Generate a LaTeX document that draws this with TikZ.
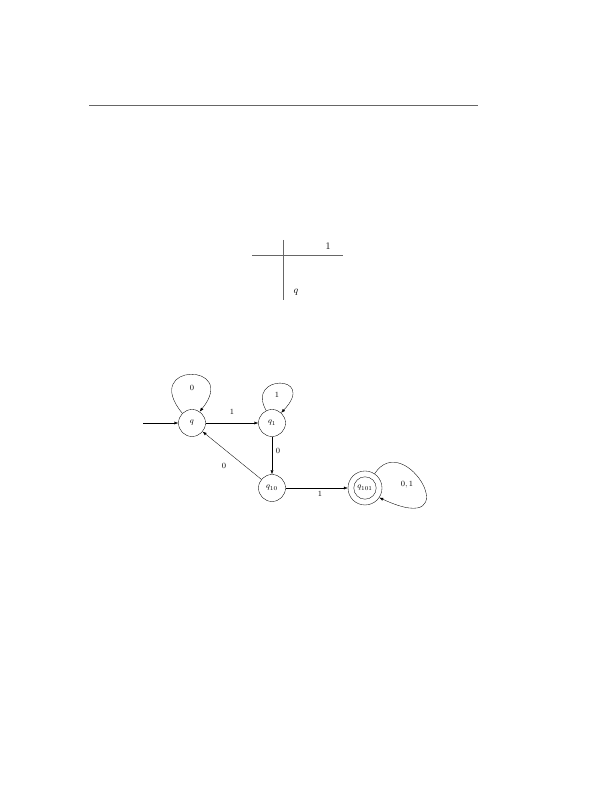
\documentclass[tikz,border=0pt]{standalone}
\usetikzlibrary{arrows.meta}
\begin{document}
\begin{tikzpicture}[x=1bp,y=1bp,
  state/.style={circle,draw,line width=0.35pt,minimum size=27bp,inner sep=0pt,font=\footnotesize},
  inner/.style={circle,draw,line width=0.35pt,minimum size=22.4bp,inner sep=0pt,font=\footnotesize},
  outer/.style={circle,draw,line width=0.35pt,minimum size=34bp,inner sep=0pt},
  edge/.style={line width=0.35pt,-{Latex[length=4bp,width=3bp]}},
  lbl/.style={font=\footnotesize,inner sep=0pt},
  thin/.style={line width=0.5pt,draw=black!60}]
\useasboundingbox (0,0) rectangle (612,792);
% top rule
\coordinate (r1) at (89,687);
\coordinate (r2) at (478,687);
\draw[thin] (r1) -- (r2);
% table
\coordinate (tv1) at (283,552);
\coordinate (tv2) at (283,492);
\coordinate (th1) at (252,537);
\coordinate (th2) at (343,537);
\draw[thin] (tv1) -- (tv2);
\draw[thin] (th1) -- (th2);
\node (t1) at (328,546) {$1$};
\node (tq) at (296,500) {$q$};
% automaton
\node[state] (q) at (192,369) {$q$};
\node[state] (q1) at (272,369) {$q_1$};
\node[state] (q10) at (272,304) {$q_{10}$};
\node[inner] (q101) at (365,304) {$q_{101}$};
\node[outer] (q101o) at (365,304) {};
\coordinate (start) at (143,369);
\draw[edge] (start) -- (q);
\draw[edge] (q.135) .. controls (140,430) and (240,430) .. (q.56);
\node[lbl] (l0) at (192,404) {$0$};
\draw[edge] (q1.115) .. controls (245,418) and (318,418) .. (q1.48);
\node[lbl] (l1) at (277,397) {$1$};
\draw[edge] (q) -- (q1);
\node[lbl] (l2) at (232,380) {$1$};
\draw[edge] (q1) -- (q10);
\node[lbl] (l3) at (278,341) {$0$};
\draw[edge] (q10) -- (q);
\node[lbl] (l4) at (224,326) {$0$};
\draw[edge] (q10) -- (q101o);
\node[lbl] (l5) at (320,298) {$1$};
\draw[edge] (q101o.56) .. controls (405,365) and (470,252) .. (q101o.-34);
\node[lbl] (l6) at (407,307) {$0,1$};
\end{tikzpicture}
\end{document}
